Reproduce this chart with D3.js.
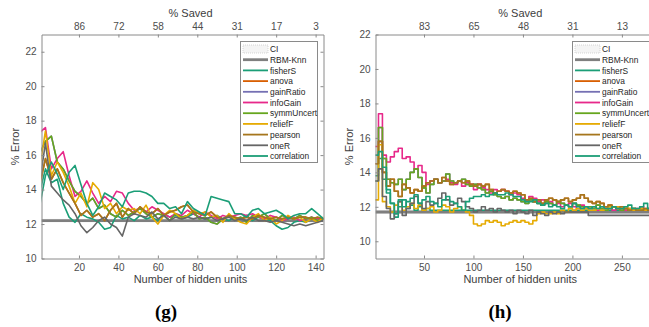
<!DOCTYPE html>
<html>
<head>
<meta charset="utf-8">
<script src="https://cdn.jsdelivr.net/npm/d3@7"></script>
<style>
  body { margin: 0; background: #fff; }
  text { font-family: "Liberation Sans", Arial, sans-serif; }
</style>
</head>
<body>
<svg id="chart" width="649" height="327"></svg>
<script>
// legend / series names, in drawing order
const seriesNames = ["fisherS", "anova", "gainRatio", "infoGain", "symmUncert", "reliefF", "pearson", "oneR", "correlation"];
const seriesColors = ["#1b9e77", "#d95f02", "#7570b3", "#e7298a", "#66a61e", "#e6ab02", "#a6761d", "#666666", "#1b9e77"];

// panel (g): one value every 3 hidden units, from 0 to 144
const stepG = 3;
const fisherSG = [13.8,15.2,14.4,14.6,13.2,12.4,12.1,12.6,12.4,12.3,12.1,11.7,11.8,12.5,12.3,12.4,12.2,12.5,12.3,12.4,12.2,12.6,12.4,12.5,12.3,12.4,12.6,12.4,12.3,12.4,12.5,12.3,12.2,12.4,12.3,12.5,12.2,12.4,12.3,12.2,11.9,11.7,11.8,12.1,12.2,12.1,12.3,12.2,12.3];
const anovaG = [14.2,15.8,14.6,15.2,14.4,13.8,13.2,12.5,12.8,12.4,12.6,12.2,12.8,13.2,12.4,12.9,12.6,13.0,12.7,12.6,12.9,12.5,12.7,12.8,13.0,13.1,12.7,12.6,12.5,12.7,12.4,12.3,12.5,12.4,12.3,12.4,12.3,12.5,12.4,12.3,12.4,12.3,12.4,12.3,12.4,12.4,12.3,12.4,12.3];
const gainRatioG = [16.1,16.8,17.1,15.6,15.2,14.5,13.9,13.6,13.2,13.5,12.9,13.1,12.6,12.4,12.8,12.5,12.7,12.9,12.6,12.4,12.6,12.5,12.2,12.6,12.4,12.5,12.7,12.3,12.4,12.1,12.0,12.3,12.5,12.3,12.4,12.1,12.5,12.4,12.6,12.3,12.2,12.5,12.4,12.3,12.5,12.3,12.4,12.2,12.3];
const infoGainG = [17.3,17.6,15.2,15.8,16.2,14.8,13.6,13.9,14.5,13.8,13.2,13.6,13.3,13.9,13.8,13.2,12.8,12.9,12.7,13.0,12.8,12.6,12.4,12.6,12.5,12.8,12.6,12.4,12.7,12.5,12.3,12.5,12.4,12.5,12.6,12.5,12.6,12.4,12.3,12.5,12.4,12.2,12.3,12.4,12.2,12.3,12.4,12.3,12.3];
const symmUncertG = [16.1,16.8,17.1,15.6,15.2,14.5,13.9,13.6,13.2,13.5,12.9,13.1,12.6,12.4,12.8,12.5,12.7,12.9,12.6,12.4,12.6,12.5,12.2,12.6,12.4,12.5,12.7,12.3,12.4,12.1,12.0,12.3,12.5,12.3,12.4,12.1,12.5,12.4,12.6,12.3,12.2,12.5,12.4,12.3,12.5,12.3,12.4,12.2,12.3];
const reliefFG = [15.2,17.4,14.8,15.6,15.0,14.2,13.2,13.8,13.0,14.4,14.0,12.9,13.2,12.6,13.0,12.8,12.9,12.6,13.1,12.4,12.0,12.5,12.8,12.6,12.3,12.5,12.8,12.6,12.7,12.4,12.5,12.1,12.6,12.3,12.1,12.0,12.4,12.6,12.2,12.4,12.0,12.2,12.5,12.3,12.4,12.1,12.3,12.1,12.4];
const pearsonG = [14.2,15.8,14.6,15.2,14.4,13.8,13.2,12.5,12.8,12.4,12.6,12.2,12.8,13.2,12.4,12.9,12.6,13.0,12.7,12.6,12.9,12.5,12.7,12.8,13.0,13.1,12.7,12.6,12.5,12.7,12.4,12.3,12.5,12.4,12.3,12.4,12.3,12.5,12.4,12.3,12.4,12.3,12.4,12.3,12.4,12.4,12.3,12.4,12.3];
const oneRG = [14.4,16.7,14.2,13.8,13.4,13.1,12.6,11.9,11.5,11.8,12.2,12.4,12.0,11.8,11.3,12.4,12.6,12.5,12.4,12.7,12.3,12.5,12.2,12.4,12.3,12.4,12.3,12.4,12.3,12.4,12.2,12.3,12.4,12.2,12.3,12.2,12.4,12.2,12.2,12.1,12.2,12.1,12.0,11.9,12.0,11.9,12.0,12.1,12.2];
const correlationG = [13.0,14.8,15.6,14.9,14.0,15.0,15.4,14.3,13.2,12.5,13.0,13.8,13.6,13.4,13.0,13.8,13.9,13.9,13.8,13.6,13.2,13.2,12.9,13.0,12.6,13.3,12.9,12.7,12.5,13.6,13.5,13.4,13.3,12.6,12.6,12.4,12.8,12.9,12.6,12.7,12.8,12.6,12.3,12.5,12.6,12.6,12.9,12.6,12.3];
const rbmG = 12.2;
const ciG = [12.1, 12.3];

// panel (h): one value every 4 hidden units, from 0 to 288
const stepH = 4;
const fisherSH = [13.8,14.8,13.6,13.0,12.2,11.4,12.0,12.4,11.9,12.1,11.8,12.0,11.8,11.9,11.8,11.8,11.8,11.8,11.8,11.8,11.8,11.8,11.8,11.8,11.8,11.8,11.8,11.8,11.8,11.8,11.8,11.8,11.8,11.8,11.8,11.8,11.8,11.8,11.8,11.8,11.8,11.8,11.8,11.8,11.8,11.8,11.8,11.8,11.8,11.8,11.8,11.8,11.8,11.8,11.8,11.8,11.8,11.8,11.8,11.8,11.8,11.8,11.8,11.8,11.8,11.8,11.8,11.8,11.8,11.8,11.8,11.8,11.8];
const anovaH = [14.5,15.8,14.0,13.2,13.6,12.9,12.6,13.3,13.1,12.8,13.0,12.9,13.2,13.4,13.5,13.6,13.4,13.7,13.5,13.3,13.4,13.5,13.4,13.5,13.3,13.2,13.3,13.2,13.3,13.0,12.8,12.9,13.0,12.9,12.8,12.9,12.8,12.7,12.4,12.5,12.3,12.4,12.2,12.4,12.5,12.4,12.3,12.4,12.5,12.3,12.4,12.5,12.7,12.5,12.3,12.2,12.3,12.2,12.0,12.1,12.0,11.9,12.0,11.9,11.8,11.9,11.8,11.8,11.9,11.8,11.7,11.8,11.8];
const gainRatioH = [13.5,16.6,14.8,13.6,13.4,13.3,13.6,13.0,13.6,14.0,14.2,13.7,13.1,12.8,13.3,13.6,13.4,13.5,13.9,13.5,13.4,13.5,13.6,13.3,13.2,13.3,13.1,13.0,12.8,12.9,12.7,12.6,12.5,12.6,12.4,12.5,12.4,12.3,12.2,12.4,12.3,12.2,12.1,12.3,12.2,12.1,12.3,12.2,12.1,12.0,12.2,12.1,12.0,11.9,12.0,11.9,12.1,11.9,11.8,11.9,12.0,11.9,11.8,11.9,11.8,11.9,11.8,11.9,11.8,11.9,11.9,11.8,11.8];
const infoGainH = [15.5,17.4,15.0,14.6,14.9,15.2,15.4,14.8,14.9,14.6,14.2,14.4,14.0,13.3,13.5,13.6,13.4,13.5,13.6,13.4,13.3,13.5,13.2,13.4,13.3,13.0,13.3,13.1,13.0,12.8,13.0,12.9,13.0,12.9,12.7,12.8,12.7,12.5,12.4,12.6,12.5,12.3,12.4,12.2,12.3,12.1,12.2,12.0,12.1,12.2,12.0,11.9,12.1,12.0,11.9,12.0,11.8,11.9,12.0,11.9,11.8,11.9,11.9,11.8,11.9,11.8,11.9,12.0,11.8,11.9,11.8,11.9,11.9];
const symmUncertH = [13.5,16.6,14.8,13.6,13.4,13.3,13.6,13.0,13.6,14.0,14.2,13.7,13.1,12.8,13.3,13.6,13.4,13.5,13.9,13.5,13.4,13.5,13.6,13.3,13.2,13.3,13.1,13.0,12.8,12.9,12.7,12.6,12.5,12.6,12.4,12.5,12.4,12.3,12.2,12.4,12.3,12.2,12.1,12.3,12.2,12.1,12.3,12.2,12.1,12.0,12.2,12.1,12.0,11.9,12.0,11.9,12.1,11.9,11.8,11.9,12.0,11.9,11.8,11.9,11.8,11.9,11.8,11.9,11.8,11.9,11.9,11.8,11.8];
const reliefFH = [12.4,15.6,12.3,12.0,11.7,12.1,12.3,11.8,12.0,12.2,11.9,12.1,11.8,11.9,12.0,11.7,11.8,12.1,12.0,11.7,11.9,12.0,11.8,11.7,11.5,11.0,10.9,11.0,11.2,11.1,11.2,11.1,10.9,11.0,11.1,11.2,11.1,11.2,11.1,11.0,11.2,11.6,11.7,11.6,11.6,11.7,11.6,11.8,11.7,11.9,11.8,11.9,11.8,11.9,11.8,11.8,11.9,11.8,11.9,12.0,12.0,12.0,12.0,12.0,11.9,11.8,11.8,11.9,11.8,11.8,11.8,11.7,11.7];
const pearsonH = [14.5,15.8,14.0,13.2,13.6,12.9,12.6,13.3,13.1,12.8,13.0,12.9,13.2,13.4,13.5,13.6,13.4,13.7,13.5,13.3,13.4,13.5,13.4,13.5,13.3,13.2,13.3,13.2,13.3,13.0,12.8,12.9,13.0,12.9,12.8,12.9,12.8,12.7,12.4,12.5,12.3,12.4,12.2,12.4,12.5,12.4,12.3,12.4,12.5,12.3,12.4,12.5,12.7,12.5,12.3,12.2,12.3,12.2,12.0,12.1,12.0,11.9,12.0,11.9,11.8,11.9,11.8,11.8,11.9,11.8,11.7,11.8,11.8];
const oneRH = [13.5,14.2,12.6,11.9,11.3,11.6,12.3,11.5,11.9,12.2,12.6,12.2,11.9,12.3,12.1,12.2,12.5,12.8,12.4,12.1,12.2,12.5,12.3,12.0,11.9,11.7,11.8,12.0,11.8,11.9,11.7,11.9,11.8,11.7,11.8,11.6,11.8,11.7,11.6,11.8,11.5,11.7,11.6,11.5,11.7,11.6,11.7,11.6,11.7,11.7,11.7,11.7,11.7,11.7,11.5,11.5,11.5,11.5,11.5,11.5,11.5,11.5,11.5,11.5,11.5,11.5,11.5,11.5,11.5,11.5,11.5,11.5,11.5];
const correlationH = [15.0,15.2,14.3,12.8,12.2,11.6,12.4,12.0,12.3,12.5,12.7,12.2,12.4,12.6,12.3,12.2,12.0,12.4,12.6,12.3,12.2,12.0,11.8,12.3,12.5,12.6,12.6,12.7,12.6,12.7,12.8,12.7,12.7,12.8,12.7,12.6,12.6,12.4,12.3,12.3,12.4,12.2,12.1,12.2,12.0,12.1,12.0,11.9,12.1,12.0,12.2,12.0,11.9,12.0,11.9,12.0,11.9,12.0,11.9,11.9,12.0,11.9,11.9,12.0,12.1,11.9,11.9,12.0,12.2,11.9,11.9,12.0,12.0];
const rbmH = 11.7;
const ciH = [11.6, 11.8];

// tick labels
const bottomTicksG = [20, 40, 60, 80, 100, 120, 140];
const savedLabelsG = [86, 72, 58, 44, 31, 17, 3];
const leftTicksG = [10, 12, 14, 16, 18, 20, 22];
const bottomTicksH = [50, 100, 150, 200, 250];
const savedLabelsH = [83, 65, 48, 31, 13];
const leftTicksH = [10, 12, 14, 16, 18, 20, 22];

const svg = d3.select("#chart");
const axisCol = "#8a8a8a";
const textCol = "#4d4d4d";

const panels = [
  { id: "g", label: "(g)", left: 41.5, right: 323.5, top: 34.5, bottom: 258.5,
    xd: [1, 144], yd: [10, 23], step: stepG, curve: d3.curveLinear,
    series: [fisherSG, anovaG, gainRatioG, infoGainG, symmUncertG, reliefFG, pearsonG, oneRG, correlationG],
    rbm: rbmG, ci: ciG, bt: bottomTicksG, saved: savedLabelsG, lt: leftTicksG,
    legendX: 240, labelX: 166, errX: 19 },
  { id: "h", label: "(h)", left: 375.5, right: 659.5, top: 34.5, bottom: 258.5,
    xd: [1, 288], yd: [9, 22], step: stepH, curve: d3.curveStepAfter,
    series: [fisherSH, anovaH, gainRatioH, infoGainH, symmUncertH, reliefFH, pearsonH, oneRH, correlationH],
    rbm: rbmH, ci: ciH, bt: bottomTicksH, saved: savedLabelsH, lt: leftTicksH,
    legendX: 572, labelX: 500, errX: 353 }
];

panels.forEach(p => {
  const x = d3.scaleLinear().domain(p.xd).range([p.left, p.right]);
  const y = d3.scaleLinear().domain(p.yd).range([p.bottom, p.top]);
  const g = svg.append("g");

  g.append("clipPath").attr("id", "clip-" + p.id)
    .append("rect").attr("x", p.left).attr("y", p.top)
    .attr("width", p.right - p.left).attr("height", p.bottom - p.top);

  const plot = g.append("g").attr("clip-path", `url(#clip-${p.id})`);

  // CI band and baseline
  plot.append("rect")
    .attr("x", p.left).attr("width", p.right - p.left)
    .attr("y", y(p.ci[1])).attr("height", y(p.ci[0]) - y(p.ci[1]))
    .attr("fill", "#ececec");
  plot.append("line")
    .attr("x1", p.left).attr("x2", p.right)
    .attr("y1", y(p.rbm)).attr("y2", y(p.rbm))
    .attr("stroke", "#7f7f7f").attr("stroke-width", 2.8);

  const line = d3.line()
    .x((d, i) => x(i * p.step))
    .y(d => y(d))
    .curve(p.curve);

  p.series.forEach((s, k) => {
    plot.append("path")
      .datum(s)
      .attr("d", line)
      .attr("fill", "none")
      .attr("stroke", seriesColors[k])
      .attr("stroke-width", 1.6)
      .attr("stroke-linejoin", "round");
  });

  // axes box with inward ticks
  const axes = [
    [d3.axisBottom(x).tickValues(p.bt).tickSize(-3), `translate(0,${p.bottom})`],
    [d3.axisTop(x).tickValues(p.bt).tickSize(-3).tickFormat((d, i) => p.saved[i]), `translate(0,${p.top})`],
    [d3.axisLeft(y).tickValues(p.lt).tickSize(-3), `translate(${p.left},0)`],
    [d3.axisRight(y).tickValues(p.lt).tickSize(-3).tickFormat(""), `translate(${p.right},0)`]
  ];
  axes.forEach(([ax, tr]) => {
    const a = g.append("g").attr("transform", tr).call(ax.tickSizeOuter(0).tickPadding(5));
    a.select(".domain").attr("stroke", axisCol);
    a.selectAll(".tick line").attr("stroke", axisCol);
    a.selectAll(".tick text").attr("fill", textCol).style("font-size", "10px")
      .style("font-family", "Liberation Sans, Arial, sans-serif");
  });

  // titles
  g.append("text").attr("x", (p.left + Math.min(p.right, 649)) / 2 + 8).attr("y", 17)
    .attr("text-anchor", "middle").attr("fill", "#404040").style("font-size", "11px").text("% Saved");
  g.append("text").attr("x", (p.left + Math.min(p.right, 649)) / 2 + 8).attr("y", 283)
    .attr("text-anchor", "middle").attr("fill", "#404040").style("font-size", "11px").text("Number of hidden units");
  g.append("text").attr("transform", `translate(${p.errX},${(p.top + p.bottom) / 2}) rotate(-90)`)
    .attr("text-anchor", "middle").attr("fill", "#404040").style("font-size", "11px").text("% Error");
  g.append("text").attr("x", p.labelX).attr("y", 318)
    .attr("text-anchor", "middle").attr("fill", "#000")
    .style("font-family", "Liberation Serif, serif").style("font-weight", "bold").style("font-size", "19px")
    .text(p.label);

  // legend
  const lx = p.legendX, ly = 41, rowH = 10.7;
  const names = ["CI", "RBM-Knn"].concat(seriesNames.slice());
  const cols = [null, "#7f7f7f"].concat(seriesColors);
  g.append("rect").attr("x", lx + 0.5).attr("y", ly + 0.5).attr("width", 77).attr("height", 121)
    .attr("fill", "#fff").attr("stroke", axisCol);
  names.forEach((n, i) => {
    const cy = ly + 8 + i * rowH;
    if (i === 0) {
      g.append("rect").attr("x", lx + 3).attr("y", cy - 4).attr("width", 25).attr("height", 8)
        .attr("fill", "#f4f4f4").attr("stroke", "#bdbdbd").attr("stroke-width", 0.6).attr("stroke-dasharray", "1,1");
    } else {
      g.append("line").attr("x1", lx + 3).attr("x2", lx + 28).attr("y1", cy).attr("y2", cy)
        .attr("stroke", cols[i]).attr("stroke-width", i === 1 ? 2.8 : 1.8);
    }
    g.append("text").attr("x", lx + 30).attr("y", cy + 3.2).attr("fill", "#262626")
      .style("font-size", "8.4px").text(n);
  });
});
</script>
</body>
</html>
